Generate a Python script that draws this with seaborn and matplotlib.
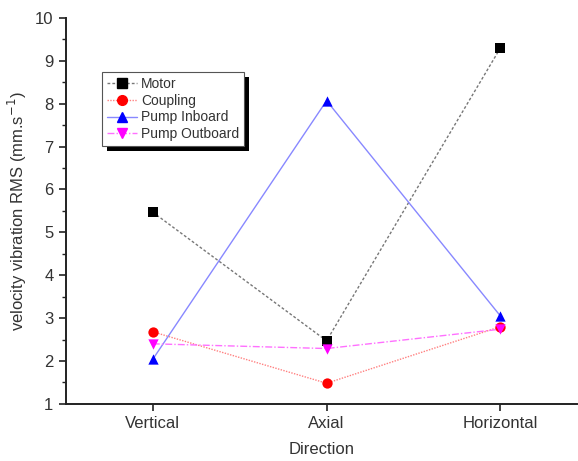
import numpy as np
import pandas as pd
import matplotlib
matplotlib.use('Agg')
import matplotlib.pyplot as plt
import seaborn as sns
from matplotlib.lines import Line2D
from matplotlib.patches import Rectangle
from matplotlib.transforms import IdentityTransform
from matplotlib.ticker import MultipleLocator

sns.set_style('white')
plt.rcParams['font.family'] = ['Liberation Sans', 'DejaVu Sans']

# data
directions = ['Vertical', 'Axial', 'Horizontal']
motor = [5.47, 2.47, 9.30]
coupling = [2.68, 1.48, 2.80]
pump_inboard = [2.04, 8.07, 3.05]
pump_outboard = [2.40, 2.29, 2.74]

series = ['Motor', 'Coupling', 'Pump Inboard', 'Pump Outboard']
values = [motor, coupling, pump_inboard, pump_outboard]

df = pd.DataFrame({
    'pos': np.tile(np.arange(len(directions)), len(series)),
    'value': np.concatenate(values),
    'series': np.repeat(series, len(directions)),
})

# line colour, marker colour, marker, linestyle
styles = {
    'Motor': ('#777777', 'black', 's', (0, (2, 1.5))),
    'Coupling': ('#ff8080', 'red', 'o', (0, (1, 1))),
    'Pump Inboard': ('#8888ff', 'blue', '^', '-'),
    'Pump Outboard': ('#ff70ff', 'magenta', 'v', (0, (5, 1.5, 1, 1.5))),
}

fig = plt.figure(figsize=(5.78, 4.61), dpi=100)
ax = fig.add_axes([0.114, 0.124, 0.884, 0.837])

handles = []
for name in series:
    lc, mc, mk, ls = styles[name]
    sub = df[df['series'] == name]
    sns.lineplot(data=sub, x='pos', y='value', color=lc, linestyle=ls,
                 linewidth=1.0, ax=ax, legend=False)
    sns.scatterplot(data=sub, x='pos', y='value', color=mc, marker=mk,
                    s=55, edgecolor=mc, linewidth=0, ax=ax, legend=False, zorder=3)
    handles.append(Line2D([0], [0], color=lc, linestyle=ls, linewidth=1.0,
                          marker=mk, markersize=7, markerfacecolor=mc,
                          markeredgecolor=mc, label=name))

ax.set_xlim(-0.5, 2.44)
ax.set_ylim(1, 10)
ax.set_xticks(range(len(directions)))
ax.set_xticklabels(directions)
ax.yaxis.set_major_locator(MultipleLocator(1))
ax.yaxis.set_minor_locator(MultipleLocator(0.5))

for s in ['top', 'right']:
    ax.spines[s].set_visible(False)
for s in ['left', 'bottom']:
    ax.spines[s].set_linewidth(1.4)
    ax.spines[s].set_color('#222222')

ax.tick_params(axis='both', which='major', direction='out', length=5, width=1.2,
               labelsize=12, color='#222222', labelcolor='#333333',
               left=True, bottom=True, pad=4)
ax.tick_params(axis='y', which='minor', direction='out', length=3, width=1.0,
               left=True, color='#222222')

ax.set_xlabel('Direction', fontsize=12, color='#333333', labelpad=8)
ax.set_ylabel('velocity vibration RMS (mm.s$^{-1}$)', fontsize=12,
              color='#333333', labelpad=4)

leg = ax.legend(handles=handles, loc='upper left', bbox_to_anchor=(0.07, 0.86),
                borderaxespad=0, fontsize=10, frameon=True, fancybox=False,
                handlelength=2.2, handletextpad=0.3, labelspacing=0.2,
                borderpad=0.35)
leg.get_frame().set_edgecolor('#555555')
leg.get_frame().set_linewidth(0.8)
leg.get_frame().set_alpha(1.0)
for t in leg.get_texts():
    t.set_color('#333333')

# solid black drop shadow behind the legend box
fig.canvas.draw()
bb = leg.get_frame().get_window_extent()
ax.add_patch(Rectangle((bb.x0 + 5, bb.y0 - 5), bb.width, bb.height,
                       transform=IdentityTransform(), facecolor='black',
                       edgecolor='none', zorder=4.9, clip_on=False))

fig.savefig('out.png', dpi=100)
